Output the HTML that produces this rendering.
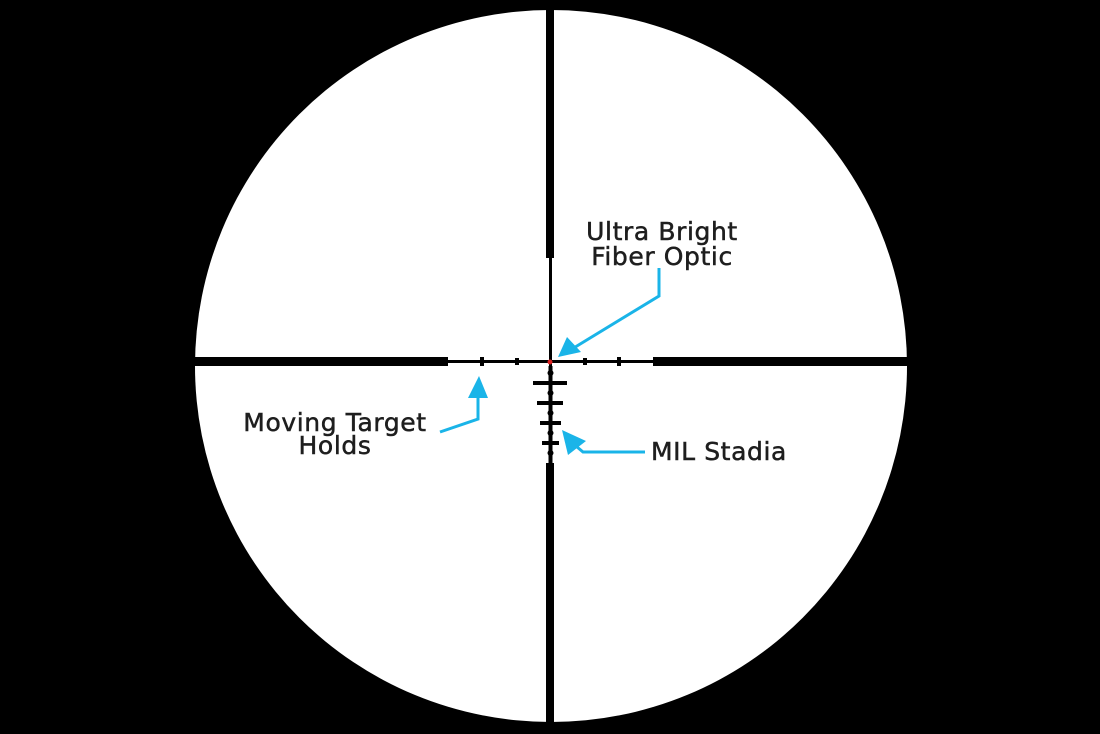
<!DOCTYPE html>
<html><head><style>
html,body{margin:0;padding:0;background:#000;width:1100px;height:734px;overflow:hidden}
svg{display:block}
text{font-family:"DejaVu Sans","Liberation Sans",sans-serif;font-size:25px;fill:#1e1e1e;letter-spacing:0.6px;stroke:#1e1e1e;stroke-width:0.5px}
</style></head><body>
<svg width="1100" height="734" viewBox="0 0 1100 734">
<rect width="1100" height="734" fill="#000"/>
<circle cx="551" cy="366" r="356" fill="#fff"/>
<g fill="#000">
<rect x="195" y="357" width="253" height="9"/>
<rect x="653" y="357" width="255" height="9"/>
<rect x="448" y="360" width="205" height="3"/>
<rect x="546" y="8" width="8" height="250"/>
<rect x="549" y="258" width="3" height="206"/>
<rect x="548.5" y="366" width="4" height="98"/>
<rect x="546" y="463" width="8" height="262"/>
<rect x="480" y="357" width="4" height="9"/>
<rect x="515" y="358" width="4" height="7"/>
<rect x="583" y="358" width="4" height="7"/>
<rect x="617" y="357" width="4" height="9"/>
<rect x="533" y="381" width="34" height="4"/>
<rect x="537" y="401" width="26" height="4"/>
<rect x="540" y="421" width="21" height="4"/>
<rect x="542" y="441" width="17" height="4"/>
<circle cx="550.5" cy="373" r="3"/><circle cx="550.5" cy="393" r="3"/>
<circle cx="550.5" cy="413" r="3"/><circle cx="550.5" cy="433" r="3"/>
<circle cx="550.5" cy="453" r="3"/>
</g>
<circle cx="550" cy="362" r="2.5" fill="#d22"/>
<g stroke="#1ab4e8" stroke-width="3" fill="none">
<polyline points="659,268 659,296 572,349"/>
<polyline points="440,432 478,419 478,390"/>
<polyline points="645,452 583,452 570,441"/>
</g>
<g fill="#1ab4e8">
<polygon points="558,357 567,337 581,352"/>
<polygon points="479,376 468,398 488,398"/>
<polygon points="562,430 568,455 586,441"/>
</g>
<text x="662" y="240" text-anchor="middle">Ultra Bright</text>
<text x="662" y="265" text-anchor="middle">Fiber Optic</text>
<text x="335" y="431" text-anchor="middle">Moving Target</text>
<text x="335" y="454" text-anchor="middle">Holds</text>
<text x="651" y="460">MIL Stadia</text>
</svg>
</body></html>
